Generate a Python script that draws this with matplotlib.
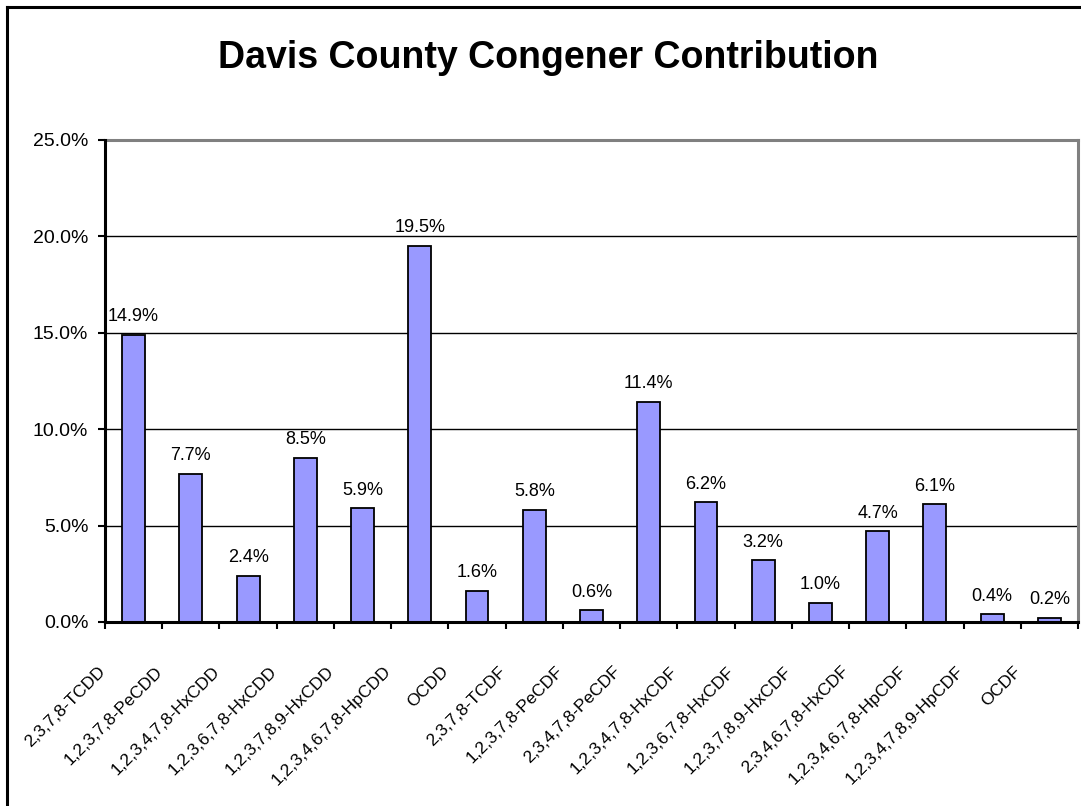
import matplotlib
matplotlib.use("Agg")
import matplotlib.pyplot as plt
import matplotlib.transforms as mtransforms
from matplotlib.lines import Line2D
from matplotlib.ticker import FuncFormatter, FixedLocator

plt.rcParams['font.family'] = ['Liberation Sans', 'DejaVu Sans']

congeners = [
    "2,3,7,8-TCDD", "1,2,3,7,8-PeCDD", "1,2,3,4,7,8-HxCDD", "1,2,3,6,7,8-HxCDD",
    "1,2,3,7,8,9-HxCDD", "1,2,3,4,6,7,8-HpCDD", "OCDD", "2,3,7,8-TCDF",
    "1,2,3,7,8-PeCDF", "2,3,4,7,8-PeCDF", "1,2,3,4,7,8-HxCDF", "1,2,3,6,7,8-HxCDF",
    "1,2,3,7,8,9-HxCDF", "2,3,4,6,7,8-HxCDF", "1,2,3,4,6,7,8-HpCDF",
    "1,2,3,4,7,8,9-HpCDF", "OCDF",
]
contribution_pct = [14.9, 7.7, 2.4, 8.5, 5.9, 19.5, 1.6, 5.8, 0.6, 11.4,
                    6.2, 3.2, 1.0, 4.7, 6.1, 0.4, 0.2]
y_ticks = [0, 5, 10, 15, 20, 25]

W, H = 1081, 806
fig = plt.figure(figsize=(W / 100, H / 100), dpi=100)
fig.patch.set_facecolor("white")

# outer chart frame (top and left edges visible)
fig.add_artist(Line2D([7 / W, 1.01], [1 - 7 / H, 1 - 7 / H], color="black",
                      lw=2.2, transform=fig.transFigure))
fig.add_artist(Line2D([7 / W, 7 / W], [-0.01, 1 - 7 / H], color="black",
                      lw=2.2, transform=fig.transFigure))

left, right, bottom, top = 105 / W, 1078 / W, 1 - 622 / H, 1 - 140 / H
ax = fig.add_axes([left, bottom, right - left, top - bottom])

n = len(congeners)
xs = list(range(n))
ax.bar(xs, contribution_pct, width=0.40, color="#9999FF",
       edgecolor="black", linewidth=1.3, zorder=3)

ax.set_xlim(-0.5, n - 0.5)
ax.set_ylim(0, 25)

# gridlines
for y in y_ticks[1:-1]:
    ax.axhline(y, color="black", lw=1.0, zorder=1)

# spines
for s in ("top", "right"):
    ax.spines[s].set_color("#808080")
    ax.spines[s].set_linewidth(2.2)
for s in ("left", "bottom"):
    ax.spines[s].set_color("black")
    ax.spines[s].set_linewidth(2.2)
    ax.spines[s].set_zorder(4)

ax.yaxis.set_major_locator(FixedLocator(y_ticks))
ax.yaxis.set_major_formatter(FuncFormatter(lambda v, p: f"{v:.1f}%"))
ax.tick_params(axis="y", direction="out", length=5, width=1.5,
               labelsize=14, pad=7)

# category boundary ticks
ax.set_xticks([i - 0.5 for i in range(n + 1)])
ax.set_xticklabels([])
ax.tick_params(axis="x", direction="out", length=5, width=1.5)

# angled category labels
base = mtransforms.blended_transform_factory(ax.transData, ax.transAxes)
offset = mtransforms.ScaledTranslation(-31 / 100, -47 / 100, fig.dpi_scale_trans)
for x, name in zip(xs, congeners):
    ax.text(x, 0, name, transform=base + offset, rotation=45,
            rotation_mode="anchor", ha="right", va="center", fontsize=12.5)

# value labels
for x, v in zip(xs, contribution_pct):
    ax.annotate(f"{v:.1f}%", (x, v), xytext=(0, 7), textcoords="offset points",
                ha="center", va="bottom", fontsize=13, zorder=5)

fig.text(548 / W, 1 - 58 / H, "Davis County Congener Contribution",
         ha="center", va="center", fontsize=27, fontweight="bold")

fig.savefig("out.png", dpi=100)
